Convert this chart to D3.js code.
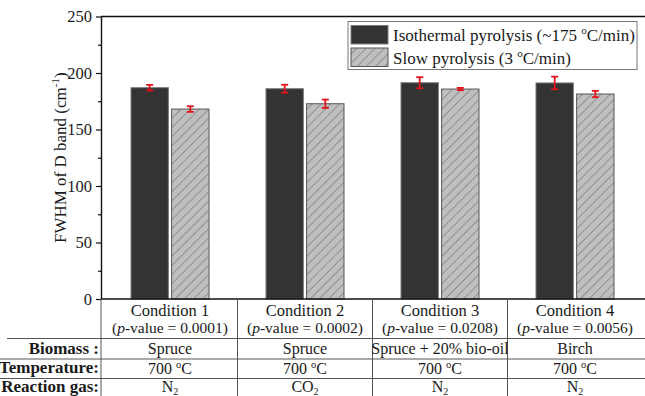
<!DOCTYPE html>
<html>
<head>
<meta charset="utf-8">
<script src="https://cdn.jsdelivr.net/npm/d3@7"></script>
<style>
  html, body { margin: 0; padding: 0; background: #fff; }
  svg { display: block; font-family: "Liberation Serif", "Times New Roman", serif; }
</style>
</head>
<body>
<svg id="chart" width="645" height="396"></svg>
<script>
// Condition labels and their p-values
const conditions = ["Condition 1", "Condition 2", "Condition 3", "Condition 4"];
const pValues = ["0.0001", "0.0002", "0.0208", "0.0056"];

// FWHM of the D band (cm-1) with standard deviations
const isothermal = [187.0, 186.1, 191.4, 191.2];
const isothermalErr = [2.5, 3.5, 4.9, 5.6];
const slow = [168.1, 172.8, 185.8, 181.4];
const slowErr = [2.5, 3.7, 1.0, 2.8];

const seriesNames = ["Isothermal pyrolysis", "Slow pyrolysis"];

// Experimental conditions table
const biomass = ["Spruce", "Spruce", "Spruce + 20% bio-oil", "Birch"];
const temperature = ["700", "700", "700", "700"];
const gasBase = ["N", "CO", "N", "N"];
const gasSub = ["2", "2", "2", "2"];

const yTicks = [0, 50, 100, 150, 200, 250];
const yMinorTicks = [25, 75, 125, 175, 225];

const svg = d3.select("#chart");
const W = 645, H = 396;
const plot = { left: 101, right: 645, top: 16.5, bottom: 299 };
const ink = "#1a1a1a";

const x = d3.scaleBand().domain(conditions).range([102.5, 642.5]);
const inner = d3.scaleBand().domain(seriesNames).range([-39, 39]).paddingInner(0.08);
const y = d3.scaleLinear().domain([0, 250]).range([plot.bottom, plot.top]);

// Hatch pattern for slow pyrolysis bars
const defs = svg.append("defs");
const pat = defs.append("pattern")
  .attr("id", "hatch")
  .attr("patternUnits", "userSpaceOnUse")
  .attr("width", 6.5).attr("height", 6.5)
  .attr("patternTransform", "rotate(45)");
pat.append("rect").attr("width", 6.5).attr("height", 6.5).attr("fill", "#bfbfbf");
pat.append("line").attr("x1", 0).attr("y1", 0).attr("x2", 0).attr("y2", 6.5)
  .attr("stroke", "#6a6a6a").attr("stroke-width", 1.1);

const rows = conditions.map((c, i) => ({
  c, i,
  vals: [
    { s: seriesNames[0], v: isothermal[i], e: isothermalErr[i] },
    { s: seriesNames[1], v: slow[i], e: slowErr[i] }
  ]
}));

const fills = { [seriesNames[0]]: "#333333", [seriesNames[1]]: "url(#hatch)" };
const strokes = { [seriesNames[0]]: "#7a7a7a", [seriesNames[1]]: "#555555" };

// Bars
const groups = svg.append("g").selectAll("g").data(rows).join("g")
  .attr("transform", d => `translate(${x(d.c) + x.bandwidth() / 2},0)`);

groups.selectAll("rect").data(d => d.vals).join("rect")
  .attr("x", d => inner(d.s))
  .attr("width", inner.bandwidth())
  .attr("y", d => y(d.v))
  .attr("height", d => y(0) - y(d.v))
  .attr("fill", d => fills[d.s])
  .attr("stroke", d => strokes[d.s])
  .attr("stroke-width", 1);

// Error bars
const err = groups.selectAll("g.err").data(d => d.vals).join("g").attr("class", "err")
  .attr("stroke", "#e3131b").attr("stroke-width", 1.8).attr("fill", "none");
const cxOf = d => inner(d.s) + inner.bandwidth() / 2;
err.append("line")
  .attr("x1", cxOf).attr("x2", cxOf)
  .attr("y1", d => y(d.v + d.e)).attr("y2", d => y(d.v - d.e));
err.append("line")
  .attr("x1", d => cxOf(d) - 3.5).attr("x2", d => cxOf(d) + 3.5)
  .attr("y1", d => y(d.v + d.e)).attr("y2", d => y(d.v + d.e));
err.append("line")
  .attr("x1", d => cxOf(d) - 3.5).attr("x2", d => cxOf(d) + 3.5)
  .attr("y1", d => y(d.v - d.e)).attr("y2", d => y(d.v - d.e));

// Left axis
const yAxis = svg.append("g").attr("transform", `translate(${plot.left},0)`)
  .call(d3.axisLeft(y).tickValues(yTicks).tickSize(5).tickPadding(4).tickSizeOuter(0));
yAxis.select(".domain").attr("stroke", "#111").attr("stroke-width", 1.4);
yAxis.selectAll(".tick line").attr("stroke", "#111").attr("stroke-width", 1.2);
yAxis.selectAll(".tick text").attr("font-family", "Liberation Serif, serif")
  .attr("font-size", 16.5).attr("fill", ink);
svg.append("g").attr("transform", `translate(${plot.left},0)`)
  .call(d3.axisLeft(y).tickValues(yMinorTicks).tickSize(3).tickFormat(""))
  .call(g => g.select(".domain").remove())
  .selectAll("line").attr("stroke", "#111").attr("stroke-width", 1.2);

// Right axis (inward ticks)
svg.append("g").attr("transform", `translate(${plot.right + 1},0)`)
  .call(d3.axisLeft(y).tickValues(yTicks).tickSize(-5).tickFormat("").tickSizeOuter(0))
  .call(g => g.selectAll("line").attr("stroke", "#111").attr("stroke-width", 1.2));
svg.append("g").attr("transform", `translate(${plot.right + 1},0)`)
  .call(d3.axisLeft(y).tickValues(yMinorTicks).tickSize(-3).tickFormat(""))
  .call(g => g.select(".domain").remove())
  .selectAll("line").attr("stroke", "#111").attr("stroke-width", 1.2);

// Top and bottom frame lines
svg.append("line").attr("x1", plot.left).attr("x2", W).attr("y1", plot.top).attr("y2", plot.top)
  .attr("stroke", "#111").attr("stroke-width", 1.4);
svg.append("line").attr("x1", plot.left).attr("x2", W).attr("y1", plot.bottom).attr("y2", plot.bottom)
  .attr("stroke", "#111").attr("stroke-width", 1.4);

// Y axis title
const yt = svg.append("text")
  .attr("transform", `translate(66,${(plot.top + plot.bottom) / 2}) rotate(-90)`)
  .attr("text-anchor", "middle").attr("font-size", 17).attr("fill", ink);
yt.append("tspan").text("FWHM of D band (cm");
yt.append("tspan").attr("font-size", 11).attr("dy", -7).text("-1");
yt.append("tspan").attr("dy", 7).text(")");

// Legend
const lg = svg.append("g");
lg.append("rect").attr("x", 348).attr("y", 21.5).attr("width", 289).attr("height", 48)
  .attr("fill", "#fff").attr("stroke", "#777").attr("stroke-width", 1);
const legendText = [["Isothermal pyrolysis (~175 ", "C/min)"], ["Slow pyrolysis (3 ", "C/min)"]];
seriesNames.forEach((s, i) => {
  const yy = 25.5 + i * 22.5;
  lg.append("rect").attr("x", 351).attr("y", yy).attr("width", 37).attr("height", 18.5)
    .attr("fill", fills[s]).attr("stroke", strokes[s]).attr("stroke-width", 1);
  const t = lg.append("text").attr("x", 393).attr("y", yy + 15.5)
    .attr("font-size", 17).attr("fill", ink);
  t.append("tspan").text(legendText[i][0]);
  t.append("tspan").attr("font-size", 11).attr("dy", -7).text("o");
  t.append("tspan").attr("dy", 7).text(legendText[i][1]);
});

// Conditions table below the axis
const lineColor = "#555";
const tableRows = [338.5, 359, 378.5];
svg.append("line").attr("x1", 7).attr("x2", W).attr("y1", tableRows[0]).attr("y2", tableRows[0])
  .attr("stroke", lineColor).attr("stroke-width", 1);
tableRows.slice(1).forEach(yy => {
  svg.append("line").attr("x1", 0).attr("x2", W).attr("y1", yy).attr("y2", yy)
    .attr("stroke", lineColor).attr("stroke-width", 1);
});
svg.append("line").attr("x1", plot.left).attr("x2", plot.left).attr("y1", plot.bottom).attr("y2", H)
  .attr("stroke", lineColor).attr("stroke-width", 1);
conditions.slice(1).forEach(c => {
  svg.append("line").attr("x1", x(c)).attr("x2", x(c)).attr("y1", plot.bottom).attr("y2", H)
    .attr("stroke", lineColor).attr("stroke-width", 1);
});

const cell = svg.append("g").attr("fill", ink).attr("font-size", 16).attr("text-anchor", "middle");
conditions.forEach((c, i) => {
  const cx = x(c) + x.bandwidth() / 2;
  cell.append("text").attr("x", cx).attr("y", 316).attr("font-size", 16.5).text(c);
  const p = cell.append("text").attr("x", cx).attr("y", 333).attr("font-size", 15.5);
  p.append("tspan").text("(");
  p.append("tspan").attr("font-style", "italic").text("p");
  p.append("tspan").text(`-value = ${pValues[i]})`);
  cell.append("text").attr("x", cx).attr("y", 353.5).text(biomass[i]);
  const t = cell.append("text").attr("x", cx).attr("y", 373.5);
  t.append("tspan").text(temperature[i] + " ");
  t.append("tspan").attr("font-size", 10.5).attr("dy", -6).text("o");
  t.append("tspan").attr("dy", 6).text("C");
  const g = cell.append("text").attr("x", cx).attr("y", 391.5);
  g.append("tspan").text(gasBase[i]);
  g.append("tspan").attr("font-size", 10).attr("dy", 3).text(gasSub[i]);
});

const rowLabels = ["Biomass :", "Temperature:", "Reaction gas:"];
const rowBase = [353.5, 373, 392];
rowLabels.forEach((l, i) => {
  svg.append("text").attr("x", 99).attr("y", rowBase[i]).attr("text-anchor", "end")
    .attr("font-weight", "bold").attr("font-size", 17).attr("fill", ink).text(l);
});
</script>
</body>
</html>
